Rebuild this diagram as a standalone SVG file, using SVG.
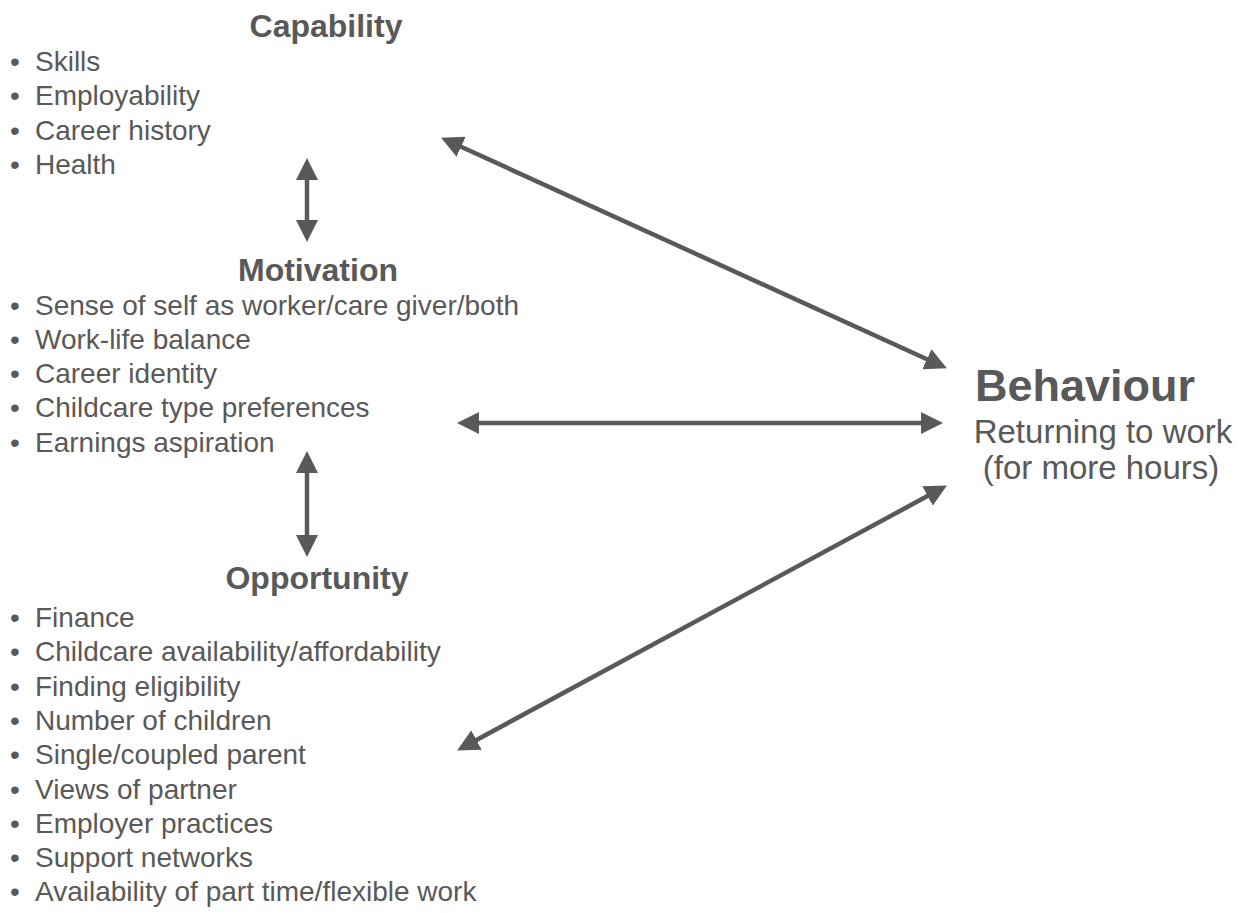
<svg xmlns="http://www.w3.org/2000/svg" width="1241" height="913" viewBox="0 0 1241 913">
  <style>
    text { font-family: "Liberation Sans", Arial, sans-serif; fill: #595959; }
    .title { font-size: 32px; font-weight: bold; text-anchor: middle; }
    .item { font-size: 28px; }
    .bul { font-size: 28px; }
    .big { font-size: 45px; font-weight: bold; text-anchor: middle; }
    .sub { font-size: 33px; text-anchor: middle; }
    .conn { stroke: #595959; stroke-width: 4.5; fill: none; marker-start: url(#ah); marker-end: url(#ah); }
  </style>
  <defs>
    <marker id="ah" markerUnits="userSpaceOnUse" markerWidth="22" markerHeight="22" viewBox="0 0 20 20" refX="10" refY="10" orient="auto-start-reverse">
      <path d="M0,0 L20,10 L0,20 z" fill="#595959"/>
    </marker>
  </defs>
  <rect width="1241" height="913" fill="#ffffff"/>

  <g id="capability">
    <text class="title" x="326" y="37">Capability</text>
    <text class="bul" x="10" y="71">•</text><text class="item" x="35" y="71">Skills</text>
    <text class="bul" x="10" y="105.3">•</text><text class="item" x="35" y="105.3">Employability</text>
    <text class="bul" x="10" y="139.6">•</text><text class="item" x="35" y="139.6">Career history</text>
    <text class="bul" x="10" y="173.9">•</text><text class="item" x="35" y="173.9">Health</text>
  </g>

  <g id="motivation">
    <text class="title" x="318" y="281">Motivation</text>
    <text class="bul" x="10" y="314.5">•</text><text class="item" x="35" y="314.5">Sense of self as worker/care giver/both</text>
    <text class="bul" x="10" y="348.8">•</text><text class="item" x="35" y="348.8">Work-life balance</text>
    <text class="bul" x="10" y="383.1">•</text><text class="item" x="35" y="383.1">Career identity</text>
    <text class="bul" x="10" y="417.4">•</text><text class="item" x="35" y="417.4">Childcare type preferences</text>
    <text class="bul" x="10" y="451.7">•</text><text class="item" x="35" y="451.7">Earnings aspiration</text>
  </g>

  <g id="opportunity">
    <text class="title" x="317" y="589">Opportunity</text>
    <text class="bul" x="10" y="627">•</text><text class="item" x="35" y="627">Finance</text>
    <text class="bul" x="10" y="661.3">•</text><text class="item" x="35" y="661.3">Childcare availability/affordability</text>
    <text class="bul" x="10" y="695.6">•</text><text class="item" x="35" y="695.6">Finding eligibility</text>
    <text class="bul" x="10" y="729.9">•</text><text class="item" x="35" y="729.9">Number of children</text>
    <text class="bul" x="10" y="764.2">•</text><text class="item" x="35" y="764.2">Single/coupled parent</text>
    <text class="bul" x="10" y="798.5">•</text><text class="item" x="35" y="798.5">Views of partner</text>
    <text class="bul" x="10" y="832.8">•</text><text class="item" x="35" y="832.8">Employer practices</text>
    <text class="bul" x="10" y="867.1">•</text><text class="item" x="35" y="867.1">Support networks</text>
    <text class="bul" x="10" y="901.4">•</text><text class="item" x="35" y="901.4">Availability of part time/flexible work</text>
  </g>

  <g id="behaviour">
    <text class="big" x="1085" y="401">Behaviour</text>
    <text class="sub" x="1103" y="443">Returning to work</text>
    <text class="sub" x="1101" y="479">(for more hours)</text>
  </g>

  <g id="connectors">
    <line class="conn" x1="307" y1="169" x2="307" y2="231"/>
    <line class="conn" x1="307" y1="462" x2="307" y2="546"/>
    <line class="conn" x1="468" y1="423" x2="932" y2="423"/>
    <line class="conn" x1="451.1" y1="142.2" x2="936.9" y2="363.8"/>
    <line class="conn" x1="937.2" y1="490.8" x2="466.8" y2="745.2"/>
  </g>
</svg>
